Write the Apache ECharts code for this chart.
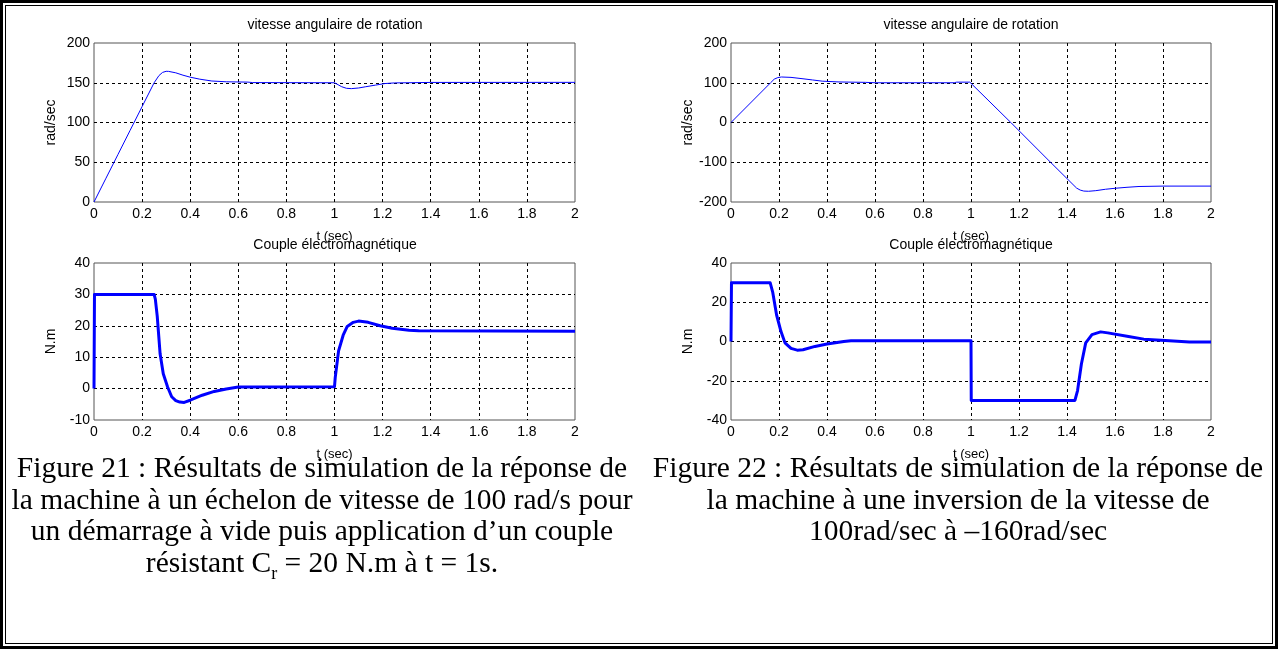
<!DOCTYPE html>
<html>
<head>
<meta charset="utf-8">
<title>Figures 21 et 22</title>
<script src="https://cdn.jsdelivr.net/npm/echarts@6/dist/echarts.min.js"></script>
<style>
    html, body { margin: 0; padding: 0; background: #fff; }
    #frame { position: absolute; left: 0; top: 0; width: 1272px; height: 643px; border: 3px solid #000; }
    #inner { position: absolute; left: 2px; top: 2px; right: 2px; bottom: 2px; border: 1px solid #000; }
    #chart { position: absolute; left: 0; top: 0; width: 1278px; height: 649px; }
    .caption {
        position: absolute; top: 452px; white-space: nowrap; text-align: center; color: #000;
        font-family: "Liberation Serif", "Times New Roman", serif; font-size: 29.5px; line-height: 31.5px;
    }
    .caption sub { font-size: 18px; line-height: 0; }
</style>
</head>
<body>
<div id="frame"><div id="inner"></div></div>
<div id="chart"></div>
<div class="caption" style="left:4px;width:636px;">Figure 21 : Résultats de simulation de la réponse de<br>la machine à un échelon de vitesse de 100 rad/s pour<br>un démarrage à vide puis application d’un couple<br>résistant C<sub>r</sub> = 20 N.m à t = 1s.</div>
<div class="caption" style="left:640px;width:636px;">Figure 22 : Résultats de simulation de la réponse de<br>la machine à une inversion de la vitesse de<br>100rad/sec à –160rad/sec</div>
<script>
// Figure 21 : vitesse (rad/sec)
const speed21T = [0, 0.05, 0.1, 0.15, 0.2, 0.25, 0.27, 0.285, 0.3, 0.31, 0.34, 0.37, 0.4, 0.44, 0.49, 0.55, 0.64, 0.66, 1.0, 1.015, 1.03, 1.05, 1.07, 1.1, 1.13, 1.17, 1.21, 1.25, 1.4, 2];
const speed21 = [0, 30, 60, 90, 120, 150, 159, 163, 164.4, 164.3, 162.5, 159.5, 157, 154.5, 152.2, 151.2, 150.8, 150.2, 150, 147.5, 145, 143, 142.6, 143.4, 145, 147, 149, 149.8, 150.4, 150.5];
// Figure 21 : couple électromagnétique (N.m)
const torque21T = [0, 0.002, 0.25, 0.255, 0.263, 0.275, 0.288, 0.306, 0.323, 0.34, 0.357, 0.375, 0.4, 0.45, 0.5, 0.55, 0.6, 1.0, 1.003, 1.017, 1.036, 1.053, 1.078, 1.1, 1.14, 1.19, 1.24, 1.31, 1.35, 2];
const torque21 = [0, 30, 30, 28.5, 23, 11, 4.7, 0.5, -2.6, -3.8, -4.3, -4.4, -3.7, -2.1, -0.9, -0.1, 0.5, 0.6, 3.5, 12, 17, 19.8, 21.1, 21.5, 21.1, 20, 19.2, 18.6, 18.4, 18.3];
// Figure 22 : vitesse (rad/sec)
const speed22T = [0, 0.165, 0.18, 0.195, 0.21, 0.25, 0.3, 0.34, 0.38, 0.45, 0.56, 0.6, 0.93, 0.94, 0.995, 1.0, 1.166, 1.333, 1.44, 1.455, 1.47, 1.49, 1.52, 1.56, 1.6, 1.65, 1.7, 1.8, 2];
const speed22 = [0, 100, 109, 113, 114.5, 113.5, 110, 107, 104, 102, 101, 100, 100, 101.5, 101.5, 100, 0, -101, -165, -170, -172.5, -173, -171.5, -168, -165.5, -163, -161, -160, -160];
// Figure 22 : couple électromagnétique (N.m)
const torque22T = [0, 0.002, 0.163, 0.174, 0.19, 0.208, 0.225, 0.25, 0.276, 0.3, 0.35, 0.4, 0.47, 0.5, 1.0, 1.001, 1.433, 1.444, 1.46, 1.478, 1.504, 1.54, 1.57, 1.656, 1.72, 1.81, 1.91, 2];
const torque22 = [0, 30, 30, 25, 13.5, 5.2, -0.7, -3.5, -4.4, -4.2, -2.5, -1.3, 0, 0.4, 0.4, -30, -30, -25, -11.5, -0.7, 3.5, 4.9, 4.4, 2.5, 1.2, 0.5, -0.2, -0.3];

// bornes des axes : [min, max, pas]
const timeAxis = [0, 2, 0.2];
const speed21Axis = [0, 200, 50];
const torque21Axis = [-10, 40, 10];
const speed22Axis = [-200, 200, 100];
const torque22Axis = [-40, 40, 20];

const titleTop = 'vitesse angulaire de rotation';
const titleBottom = 'Couple électromagnétique';
const xName = 't (sec)';
const speedName = 'rad/sec';
const torqueName = 'N.m';

const FONT = '"Liberation Sans", Arial, sans-serif';

function zip(ts, vs) {
    return ts.map((t, i) => [t, vs[i]]);
}

class SimFigure {
    constructor(container) {
        this.chart = echarts.init(document.getElementById(container), null, { renderer: 'canvas' });
        this.panels = [
            { grid: { left: 94, top: 43, width: 481, height: 159 }, axis: speed21Axis, name: speedName, data: zip(speed21T, speed21), width: 1 },
            { grid: { left: 731, top: 43, width: 480, height: 159 }, axis: speed22Axis, name: speedName, data: zip(speed22T, speed22), width: 1 },
            { grid: { left: 94, top: 263, width: 481, height: 157 }, axis: torque21Axis, name: torqueName, data: zip(torque21T, torque21), width: 3 },
            { grid: { left: 731, top: 263, width: 480, height: 157 }, axis: torque22Axis, name: torqueName, data: zip(torque22T, torque22), width: 3 }
        ];
        this.chart.setOption(this.getOption());
    }

    splitLine() {
        return {
            show: true,
            showMinLine: false,
            showMaxLine: false,
            lineStyle: { color: '#000', width: 1, type: [3, 3] }
        };
    }

    getTitles() {
        const titles = [];
        [[335, 18, titleTop], [971, 18, titleTop], [335, 238, titleBottom], [971, 238, titleBottom]].forEach(([x, y, text]) => {
            titles.push({
                text: text, left: x, top: y, textAlign: 'center', padding: 0,
                textStyle: { fontSize: 14, fontWeight: 'normal', fontFamily: FONT, color: '#000' }
            });
        });
        return titles;
    }

    getOption() {
        const grid = [], xAxis = [], yAxis = [], series = [];
        this.panels.forEach((p, i) => {
            grid.push(Object.assign({ show: true, borderColor: '#555', borderWidth: 1, backgroundColor: 'transparent' }, p.grid));
            xAxis.push({
                gridIndex: i, type: 'value', min: timeAxis[0], max: timeAxis[1], interval: timeAxis[2],
                axisLine: { show: false }, axisTick: { show: false },
                axisLabel: { color: '#000', fontSize: 14, fontFamily: FONT, margin: 5 },
                splitLine: this.splitLine(),
                name: xName, nameLocation: 'middle', nameGap: 28,
                nameTextStyle: { color: '#000', fontSize: 13, fontFamily: FONT }
            });
            yAxis.push({
                gridIndex: i, type: 'value', min: p.axis[0], max: p.axis[1], interval: p.axis[2],
                axisLine: { show: false }, axisTick: { show: false },
                axisLabel: { color: '#000', fontSize: 14, fontFamily: FONT, margin: 4 },
                splitLine: this.splitLine(),
                name: p.name, nameLocation: 'middle', nameGap: 36,
                nameTextStyle: { color: '#000', fontSize: 14, fontFamily: FONT }
            });
            series.push({
                type: 'line', xAxisIndex: i, yAxisIndex: i, data: p.data,
                showSymbol: false, animation: false, clip: true,
                lineStyle: { color: '#0000ff', width: p.width, join: 'round' }
            });
        });
        return { animation: false, title: this.getTitles(), grid, xAxis, yAxis, series };
    }
}

new SimFigure('chart');
</script>
</body>
</html>
